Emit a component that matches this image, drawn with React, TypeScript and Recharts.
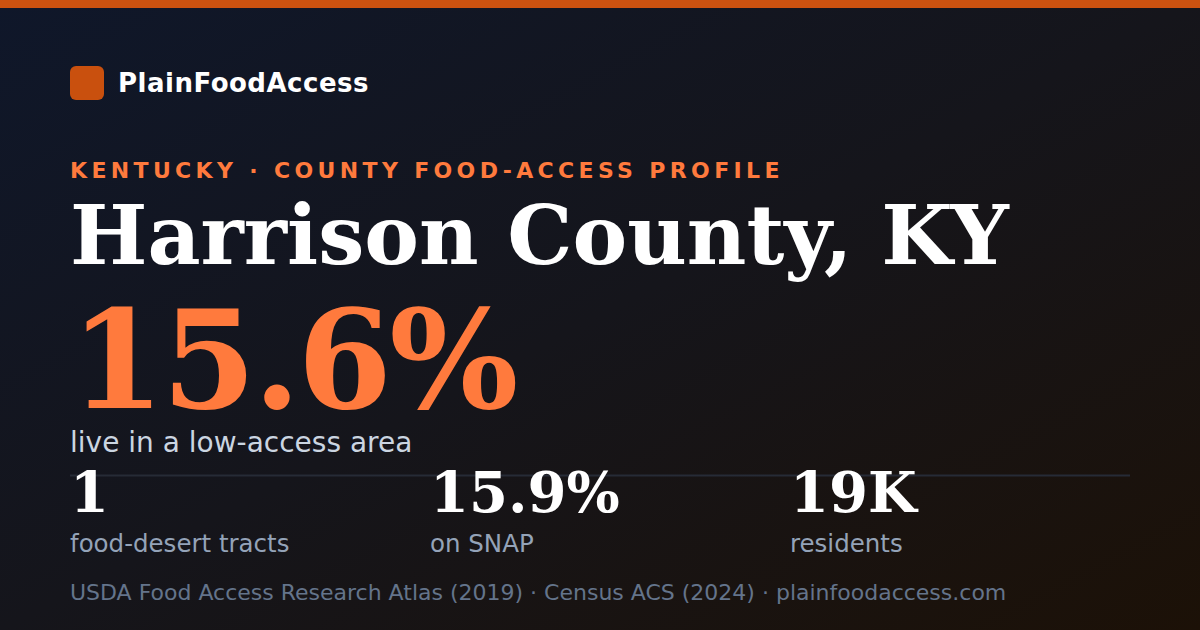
import { Surface, Layer, Rectangle, Text } from "recharts";

const WIDTH = 1200;
const HEIGHT = 630;

const brand = "PlainFoodAccess";
const kicker = "KENTUCKY · COUNTY FOOD-ACCESS PROFILE";
const county = "Harrison County, KY";
const headlineValue = "15.6%";
const headlineLabel = "live in a low-access area";
const statValues = ["1", "15.9%", "19K"];
const statLabels = ["food-desert tracts", "on SNAP", "residents"];
const sources = ["USDA Food Access Research Atlas (2019)", "Census ACS (2024)", "plainfoodaccess.com"];

const SANS = "'DejaVu Sans', sans-serif";
const SERIF = "'DejaVu Serif', serif";
const ORANGE = "#ff7a3d";

export default function App() {
  const left = 70;
  const statStep = 360;
  return (
    <div style={{ position: "absolute", top: 0, left: 0, width: WIDTH, height: HEIGHT }}>
      <Surface width={WIDTH} height={HEIGHT} viewBox={{ x: 0, y: 0, width: WIDTH, height: HEIGHT }}>
        <defs>
          <linearGradient id="bg" x1="0" y1="0" x2="1" y2="1">
            <stop offset="0%" stopColor="#0f172a" />
            <stop offset="50%" stopColor="#15151b" />
            <stop offset="100%" stopColor="#1c1107" />
          </linearGradient>
        </defs>
        <rect x={0} y={0} width={WIDTH} height={HEIGHT} fill="url(#bg)" />
        <rect x={0} y={0} width={WIDTH} height={8} fill="#cc5210" />

        <Layer className="brand">
          <Rectangle x={left} y={66} width={34} height={34} radius={6} fill="#c9500e" />
          <Text x={118} y={92} fill="#ffffff" fontSize={26} fontWeight={700} fontFamily={SANS} style={{ letterSpacing: 0.5 }}>
            {brand}
          </Text>
        </Layer>

        <Text x={left} y={178} fill={ORANGE} fontSize={22} fontWeight={700} fontFamily={SANS} style={{ letterSpacing: 4.35 }}>
          {kicker}
        </Text>
        <Text x={left} y={264} fill="#ffffff" fontSize={82} fontWeight={700} fontFamily={SERIF}>
          {county}
        </Text>
        <Text x={left} y={408} fill={ORANGE} fontSize={136} fontWeight={700} fontFamily={SERIF} style={{ letterSpacing: -3 }}>
          {headlineValue}
        </Text>
        <Text x={left} y={452} fill="#cbd5e1" fontSize={28} fontFamily={SANS}>
          {headlineLabel}
        </Text>

        <line x1={left} x2={1130} y1={475.5} y2={475.5} stroke="#262b36" strokeWidth={2} />

        {statValues.map((v, i) => (
          <Layer key={v}>
            <Text x={left + i * statStep} y={512} fill="#ffffff" fontSize={56} fontWeight={700} fontFamily={SERIF}>
              {v}
            </Text>
            <Text x={left + i * statStep} y={552} fill="#94a3b8" fontSize={24.5} fontFamily={SANS}>
              {statLabels[i]}
            </Text>
          </Layer>
        ))}

        <Text x={left} y={600} fill="#64748b" fontSize={22} fontFamily={SANS}>
          {sources.join(" · ")}
        </Text>
      </Surface>
    </div>
  );
}
